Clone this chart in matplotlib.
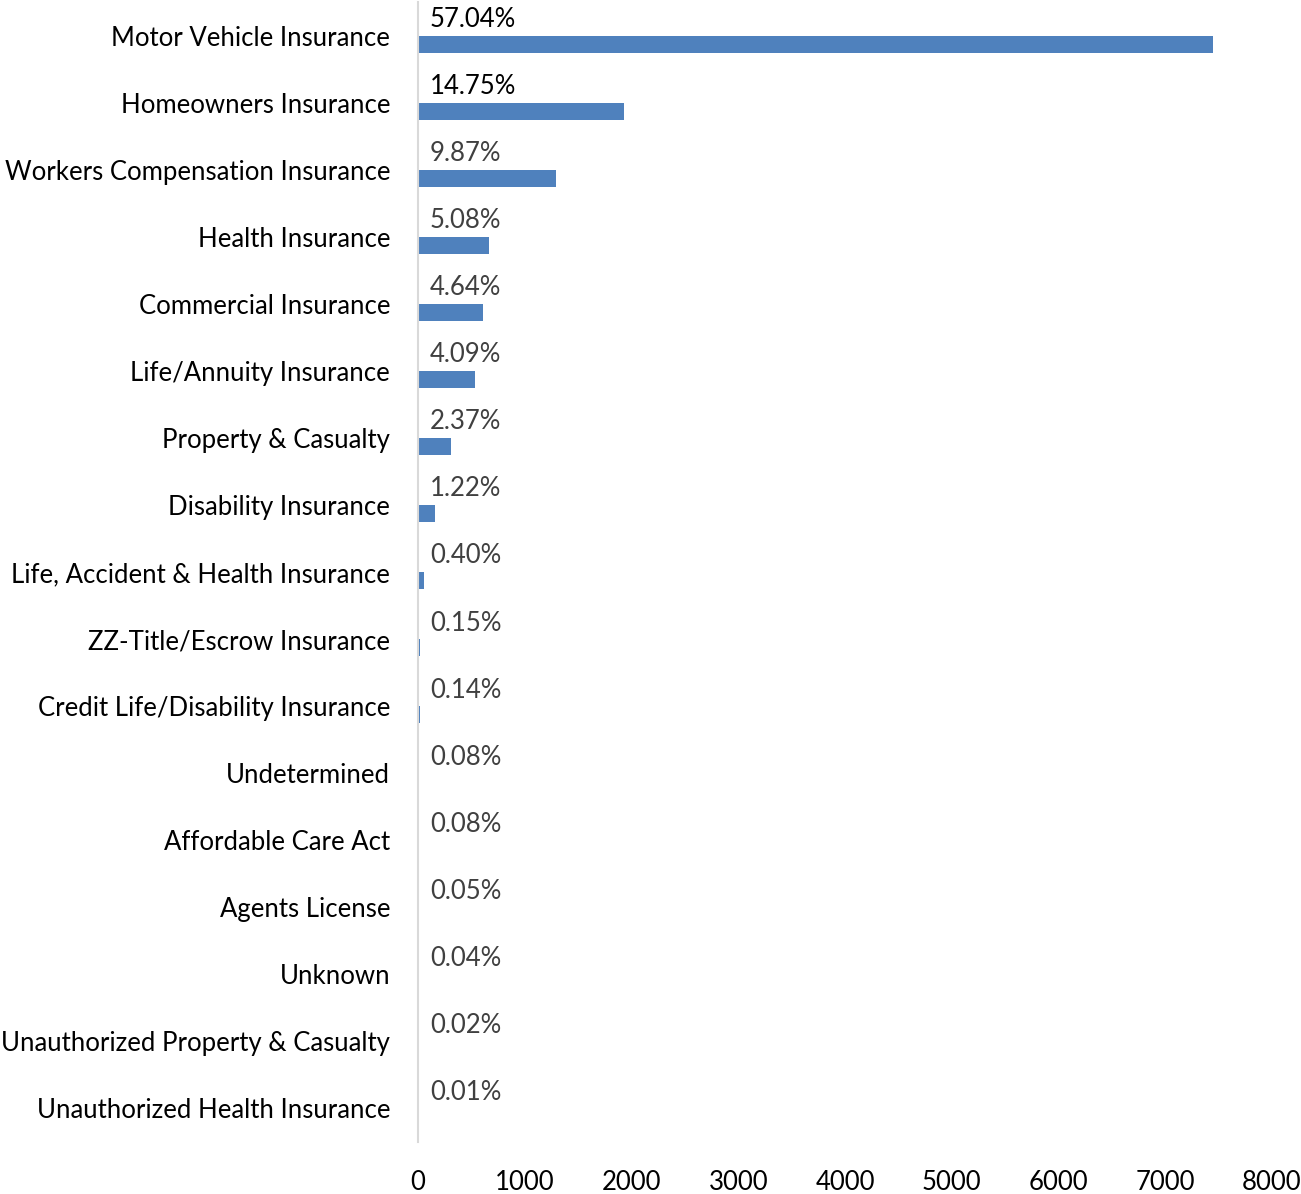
import numpy as np
import matplotlib
matplotlib.use("Agg")
import matplotlib.pyplot as plt

plt.rcParams['font.family'] = ['Lato', 'DejaVu Sans']

# complaint categories, top to bottom
categories = ["Motor Vehicle Insurance", "Homeowners Insurance",
              "Workers Compensation Insurance", "Health Insurance",
              "Commercial Insurance", "Life/Annuity Insurance",
              "Property & Casualty", "Disability Insurance",
              "Life, Accident & Health Insurance", "ZZ-Title/Escrow Insurance",
              "Credit Life/Disability Insurance", "Undetermined",
              "Affordable Care Act", "Agents License", "Unknown",
              "Unauthorized Property & Casualty", "Unauthorized Health Insurance"]
counts = [7447, 1926, 1289, 663, 606, 534, 309, 159, 52, 20, 18, 10, 10, 7, 5, 3, 1]
pct_labels = ["57.04%", "14.75%", "9.87%", "5.08%", "4.64%", "4.09%", "2.37%",
              "1.22%", "0.40%", "0.15%", "0.14%", "0.08%", "0.08%", "0.05%",
              "0.04%", "0.02%", "0.01%"]
xticks = [0, 1000, 2000, 3000, 4000, 5000, 6000, 7000, 8000]

fig = plt.figure(figsize=(13.01, 11.94), dpi=100)
ax = fig.add_axes([0.3213, 0.0436, 0.6564, 0.9547])

pos = np.arange(len(categories))
ax.barh(pos + 0.127, counts, height=0.254, color='#4F81BD')

for i, lab in enumerate(pct_labels):
    col = '#000000' if i < 2 else '#404040'
    ax.annotate(lab, xy=(0, pos[i]), xytext=(12, 16), textcoords='offset pixels',
                ha='left', va='center', fontsize=18.5, color=col)

ax.set_xlim(0, 8000)
ax.set_ylim(len(categories) - 0.5, -0.5)
ax.set_yticks(pos)
ax.set_yticklabels(categories, fontsize=18.5)
ax.set_xticks(xticks)
ax.set_xticklabels([str(t) for t in xticks], fontsize=18.5)
ax.tick_params(axis='y', length=0, pad=20)
ax.tick_params(axis='x', length=0, pad=20)
for s in ['top', 'right', 'bottom']:
    ax.spines[s].set_visible(False)
ax.spines['left'].set_color('#D9D9D9')
ax.spines['left'].set_linewidth(1.5)

fig.savefig('out.png', dpi=100)
